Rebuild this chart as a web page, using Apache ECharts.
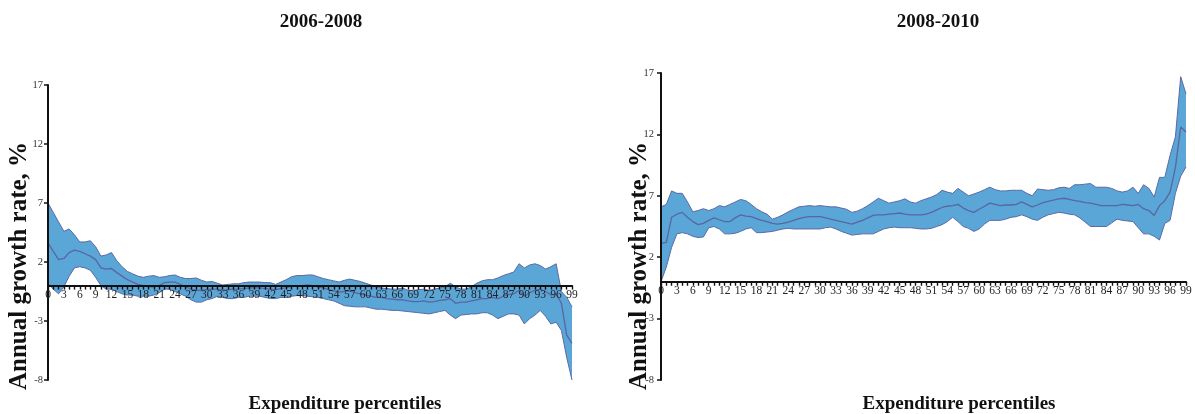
<!DOCTYPE html>
<html>
<head>
<meta charset="utf-8">
<script src="https://cdn.jsdelivr.net/npm/echarts@6/dist/echarts.min.js"></script>
<style>
html,body{margin:0;padding:0;background:#fff;}
#chart{width:1195px;height:414px;}
</style>
</head>
<body>
<div id="chart"></div>
<script>
// ---- DATA ----
const percentiles = [0,1,2,3,4,5,6,7,8,9,10,11,12,13,14,15,16,17,18,19,20,21,22,23,24,25,26,27,28,29,30,31,32,33,34,35,36,37,38,39,40,41,42,43,44,45,46,47,48,49,50,51,52,53,54,55,56,57,58,59,60,61,62,63,64,65,66,67,68,69,70,71,72,73,74,75,76,77,78,79,80,81,82,83,84,85,86,87,88,89,90,91,92,93,94,95,96,97,98,99];
const yTickLabels = [-8, -3, 2, 7, 12, 17];
const panelTitles = ['2006-2008', '2008-2010'];
const xAxisTitle = 'Expenditure percentiles';
const yAxisTitle = 'Annual growth rate, %';

// 2006-2008
const upper0608 = [7.0,6.2,5.4,4.6,4.8,4.3,3.7,3.7,3.8,3.3,2.5,2.6,2.8,2.1,1.6,1.2,1.0,0.8,0.7,0.8,0.85,0.7,0.75,0.85,0.9,0.7,0.6,0.6,0.65,0.45,0.3,0.35,0.2,0.05,0.1,0.15,0.15,0.25,0.3,0.3,0.3,0.25,0.25,0.1,0.3,0.5,0.75,0.85,0.85,0.9,0.9,0.75,0.6,0.5,0.4,0.3,0.45,0.55,0.45,0.35,0.2,0.05,-0.1,-0.2,-0.25,-0.3,-0.3,-0.2,-0.4,-0.4,-0.35,-0.3,-0.4,-0.3,-0.2,-0.1,0.2,-0.1,-0.3,-0.3,-0.1,0.2,0.4,0.5,0.5,0.65,0.85,1.0,1.15,1.85,1.5,1.75,1.85,1.7,1.4,1.6,1.85,-0.5,-1.0,-1.8];
const mean0608 = [3.6,2.9,2.2,2.3,2.8,3.0,2.9,2.7,2.5,2.2,1.5,1.4,1.45,1.1,0.8,0.5,0.3,0.1,0.0,-0.1,-0.1,0.0,0.25,0.3,0.3,0.1,-0.1,-0.3,-0.4,-0.4,-0.35,-0.3,-0.3,-0.4,-0.35,-0.3,-0.3,-0.25,-0.2,-0.2,-0.2,-0.25,-0.3,-0.35,-0.25,-0.2,-0.05,0.0,0.0,0.05,0.0,-0.1,-0.2,-0.35,-0.45,-0.55,-0.5,-0.45,-0.6,-0.7,-0.8,-0.9,-1.0,-1.0,-1.1,-1.15,-1.2,-1.2,-1.3,-1.35,-1.35,-1.3,-1.4,-1.35,-1.25,-1.2,-1.1,-1.5,-1.4,-1.4,-1.3,-1.2,-1.1,-1.1,-1.0,-1.1,-0.9,-0.75,-0.7,-0.4,-0.9,-0.6,-0.4,-0.3,-0.5,-0.8,-0.7,-1.5,-4.2,-4.9];
const lower0608 = [0.2,-0.3,-0.7,-0.1,0.8,1.5,1.6,1.5,1.3,0.7,0.0,-0.3,-0.3,-0.5,-0.7,-0.8,-0.8,-0.9,-0.9,-0.9,-0.8,-0.6,-0.3,-0.3,-0.5,-0.7,-0.9,-1.2,-1.4,-1.4,-1.2,-1.1,-0.9,-1.0,-1.1,-1.1,-1.0,-1.0,-0.9,-0.9,-0.9,-1.0,-1.1,-1.1,-1.0,-1.0,-0.9,-0.85,-0.85,-0.9,-0.95,-1.0,-1.1,-1.2,-1.3,-1.5,-1.7,-1.75,-1.8,-1.8,-1.8,-1.9,-2.0,-2.0,-2.05,-2.1,-2.1,-2.15,-2.2,-2.25,-2.3,-2.35,-2.4,-2.3,-2.2,-2.1,-2.5,-2.8,-2.5,-2.45,-2.4,-2.4,-2.3,-2.3,-2.5,-2.8,-2.6,-2.4,-2.4,-2.5,-3.25,-2.8,-2.5,-2.1,-2.6,-3.25,-3.1,-3.8,-6.1,-8.0];

// 2008-2010
const upper0810 = [6.1,6.3,7.4,7.2,7.2,6.5,5.7,5.8,5.95,5.8,5.95,6.2,6.1,6.3,6.5,6.7,6.6,6.3,5.95,5.7,5.5,5.1,5.25,5.45,5.7,5.9,6.1,6.15,6.2,6.15,6.2,6.15,6.1,6.1,6.0,5.9,5.65,5.75,5.95,6.2,6.5,6.8,6.6,6.4,6.5,6.6,6.75,6.5,6.4,6.6,6.75,6.9,7.1,7.45,7.3,7.2,7.6,7.3,7.0,7.15,7.3,7.5,7.7,7.5,7.4,7.4,7.45,7.45,7.45,7.2,7.0,7.55,7.5,7.45,7.5,7.65,7.7,7.6,7.9,7.9,7.95,8.0,7.7,7.7,7.7,7.6,7.4,7.3,7.4,7.7,7.2,7.9,7.6,6.9,8.5,8.5,10.3,11.8,16.7,15.3];
const mean0810 = [3.1,3.2,5.25,5.5,5.65,5.25,4.9,4.65,4.75,5.0,5.2,5.05,4.9,4.9,5.2,5.45,5.35,5.3,5.15,5.0,4.9,4.75,4.7,4.75,4.85,5.0,5.15,5.25,5.3,5.3,5.3,5.2,5.1,5.0,4.9,4.8,4.7,4.85,5.0,5.2,5.4,5.45,5.45,5.5,5.55,5.6,5.5,5.45,5.45,5.45,5.5,5.65,5.85,6.05,6.15,6.2,6.3,6.0,5.8,5.65,5.9,6.15,6.4,6.3,6.2,6.25,6.25,6.3,6.5,6.3,6.1,6.25,6.45,6.55,6.65,6.75,6.8,6.7,6.6,6.55,6.45,6.4,6.3,6.2,6.2,6.2,6.2,6.3,6.25,6.2,6.3,5.95,5.8,5.4,6.2,6.6,7.3,9.3,12.6,12.2];
const lower0810 = [0.0,1.2,2.8,3.9,4.0,3.9,3.7,3.6,3.65,4.4,4.5,4.3,3.9,3.9,3.95,4.1,4.3,4.4,4.0,4.0,4.05,4.1,4.2,4.3,4.35,4.3,4.3,4.3,4.3,4.3,4.3,4.4,4.45,4.3,4.1,3.95,3.8,3.85,3.9,3.9,3.9,4.1,4.3,4.4,4.45,4.4,4.4,4.4,4.35,4.3,4.3,4.35,4.5,4.65,4.9,5.25,4.9,4.5,4.35,4.1,4.3,4.7,5.0,5.0,5.0,5.1,5.25,5.3,5.45,5.3,5.1,5.0,5.25,5.45,5.55,5.65,5.6,5.5,5.45,5.2,4.85,4.5,4.5,4.5,4.5,4.8,5.1,5.0,4.95,4.9,4.4,3.9,3.9,3.7,3.4,4.75,5.0,7.2,8.6,9.35];

// ---- STYLE ----
const FILL = '#5aa6d7';
const EDGE = '#5a6aa5';
const MID = '#5a66a0';
const SERIF = '"Liberation Serif", "Times New Roman", serif';

const panels = [
  {grid: {left: 48, top: 85, width: 524, height: 295}, lo: lower0608, mid: mean0608, hi: upper0608, titleX: 321, xNameX: 345, yNameX: 20, yLabelMargin: 5},
  {grid: {left: 661, top: 73, width: 525, height: 307}, lo: lower0810, mid: mean0810, hi: upper0810, titleX: 938, xNameX: 959, yNameX: 640, yLabelMargin: 7}
];

const yMin = yTickLabels[0], yMax = yTickLabels[yTickLabels.length - 1];
const grids = [], xAxes = [], yAxes = [], series = [], graphics = [];
panels.forEach((p, k) => {
  grids.push(Object.assign({containLabel: false}, p.grid));
  // place the category axis on the zero line of the value axis
  const zeroOffset = -p.grid.height * (0 - yMin) / (yMax - yMin);
  xAxes.push({
    type: 'category', gridIndex: k, data: percentiles.map(String), boundaryGap: false, z: 10,
    position: 'bottom', offset: zeroOffset,
    axisLine: {onZero: false, lineStyle: {color: '#111', width: 2}},
    axisTick: {show: true, interval: 0, length: 4, lineStyle: {color: '#111', width: 1.4}},
    axisLabel: {interval: 2, margin: 3, fontFamily: SERIF, fontSize: 11.5, color: '#222', hideOverlap: false},
    splitLine: {show: false}
  });
  // value axis used for drawing
  yAxes.push({
    type: 'value', gridIndex: k, min: yMin, max: yMax,
    show: false, splitLine: {show: false}
  });
  // label axis (ticks -8, -3, 2, 7, 12, 17)
  yAxes.push({
    type: 'category', gridIndex: k, position: 'left', data: yTickLabels.map(String), boundaryGap: false, z: 10,
    axisLine: {show: true, lineStyle: {color: '#111', width: 2}},
    axisTick: {show: true, length: 4, lineStyle: {color: '#111', width: 1.5}},
    axisLabel: {margin: p.yLabelMargin, fontFamily: SERIF, fontSize: 10.5, color: '#333'},
    splitLine: {show: false}
  });
  const yIdx = k * 2;
  const stackName = 'band' + k;
  series.push({
    type: 'line', xAxisIndex: k, yAxisIndex: yIdx, data: p.lo, stack: stackName, stackStrategy: 'all',
    symbol: 'none', silent: true, lineStyle: {color: EDGE, width: 1}, z: 2
  });
  series.push({
    type: 'line', xAxisIndex: k, yAxisIndex: yIdx, data: p.hi.map((v, i) => v - p.lo[i]), stack: stackName, stackStrategy: 'all',
    symbol: 'none', silent: true, lineStyle: {color: EDGE, width: 1}, areaStyle: {color: FILL, opacity: 1}, z: 2
  });
  series.push({
    type: 'line', xAxisIndex: k, yAxisIndex: yIdx, data: p.mid,
    symbol: 'none', silent: true, lineStyle: {color: MID, width: 1.3}, z: 3
  });
  graphics.push({
    type: 'text', x: p.titleX, y: 22,
    style: {text: panelTitles[k], font: 'bold 19px ' + SERIF, fill: '#111', align: 'center', verticalAlign: 'middle', textAlign: 'center', textVerticalAlign: 'middle'}
  });
  graphics.push({
    type: 'text', x: p.xNameX, y: 404,
    style: {text: xAxisTitle, font: 'bold 19px ' + SERIF, fill: '#111', align: 'center', verticalAlign: 'middle', textAlign: 'center', textVerticalAlign: 'middle'}
  });
  graphics.push({
    type: 'text', x: p.yNameX, y: 266, rotation: Math.PI / 2,
    style: {text: yAxisTitle, font: 'bold 25px ' + SERIF, fill: '#111', align: 'center', verticalAlign: 'middle', textAlign: 'center', textVerticalAlign: 'middle'}
  });
});

const chart = echarts.init(document.getElementById('chart'), null, {renderer: 'canvas'});
chart.setOption({
  animation: false,
  backgroundColor: '#fff',
  grid: grids,
  xAxis: xAxes,
  yAxis: yAxes,
  series: series,
  graphic: {elements: graphics}
});
</script>
</body>
</html>
